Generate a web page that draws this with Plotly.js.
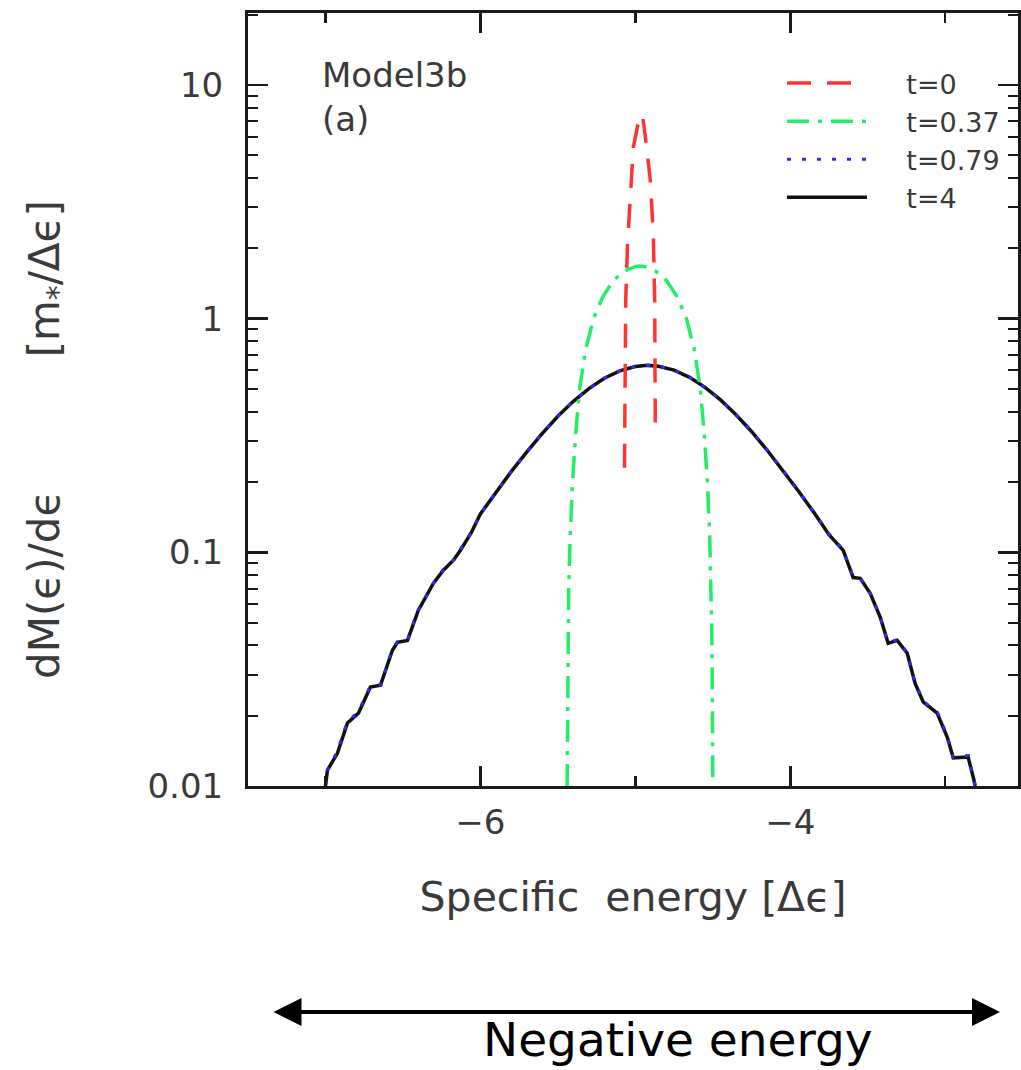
<!DOCTYPE html>
<html>
<head>
<meta charset="utf-8">
<script src="https://cdn.plot.ly/plotly-3.0.1.min.js"></script>
<style>
html,body{margin:0;padding:0;background:#fff;}
#chart{width:1021px;height:1070px;}
</style>
</head>
<body>
<div id="chart"></div>
<script>
// t=0 (red dashed)
const energyT0 = [-5.07, -5.066, -5.062, -5.05, -5.032, -5.013, -4.985, -4.955, -4.935, -4.918, -4.903, -4.884, -4.875, -4.871];
const massT0   = [0.23, 0.60, 1.20, 2.10, 3.60, 5.40, 6.70, 7.50, 6.00, 4.80, 3.90, 2.30, 1.20, 0.342];

// t=0.37 (green dash-dot)
const energyT037 = [-5.44, -5.438, -5.435, -5.43, -5.42, -5.405, -5.385, -5.36, -5.32, -5.27, -5.21, -5.14, -5.07, -5.00, -4.97,
  -4.94, -4.87, -4.80, -4.73, -4.67, -4.62, -4.58, -4.555, -4.535, -4.52, -4.51, -4.505, -4.502, -4.50];
const massT037   = [0.01, 0.02, 0.04, 0.07, 0.12, 0.20, 0.32, 0.50, 0.74, 1.00, 1.24, 1.46, 1.60, 1.67, 1.68,
  1.67, 1.60, 1.46, 1.24, 1.00, 0.74, 0.50, 0.32, 0.20, 0.12, 0.07, 0.04, 0.02, 0.01];

// t=4 (black solid)
const energyT4 = [-7.00, -6.987, -6.923, -6.858, -6.787, -6.71, -6.645, -6.568, -6.535, -6.471, -6.40, -6.303, -6.239, -6.174, -6.129, -6.06,
  -6.0, -5.9, -5.8, -5.7, -5.6, -5.5, -5.4, -5.3, -5.2, -5.1, -5.0, -4.92, -4.85, -4.75, -4.65, -4.55, -4.45, -4.35, -4.25, -4.15, -4.05, -3.95, -3.85, -3.75,
  -3.658, -3.594, -3.548, -3.484, -3.419, -3.368, -3.31, -3.245, -3.194, -3.142, -3.052, -2.987, -2.948, -2.852, -2.819, -2.806];
const massT4 = [0.0100, 0.0117, 0.0138, 0.0186, 0.0205, 0.0265, 0.0270, 0.0381, 0.0412, 0.0420, 0.0565, 0.0738, 0.0838, 0.0925, 0.102, 0.121,
  0.146, 0.180, 0.222, 0.269, 0.323, 0.382, 0.443, 0.502, 0.556, 0.598, 0.624, 0.631, 0.626, 0.602, 0.561, 0.508, 0.449, 0.388, 0.329, 0.274, 0.226, 0.184, 0.149, 0.119,
  0.102, 0.078, 0.0774, 0.0668, 0.0527, 0.0408, 0.042, 0.037, 0.0275, 0.0229, 0.0205, 0.0162, 0.0132, 0.0133, 0.0109, 0.0100];

// t=0.79 (blue dotted) - nearly identical to t=4
const energyT079 = [-7.00, -6.985, -6.925, -6.86, -6.79, -6.71, -6.64, -6.57, -6.535, -6.47, -6.40, -6.30, -6.24, -6.17, -6.13, -6.06,
  -6.0, -5.9, -5.8, -5.7, -5.6, -5.5, -5.4, -5.3, -5.2, -5.1, -5.0, -4.92, -4.85, -4.75, -4.65, -4.55, -4.45, -4.35, -4.25, -4.15, -4.05, -3.95, -3.85, -3.75,
  -3.66, -3.595, -3.55, -3.485, -3.42, -3.37, -3.31, -3.245, -3.195, -3.14, -3.05, -2.985, -2.95, -2.85, -2.82, -2.806];
const massT079 = [0.0100, 0.0118, 0.0140, 0.0188, 0.0207, 0.0268, 0.0272, 0.0385, 0.0415, 0.0423, 0.0570, 0.0742, 0.0842, 0.0930, 0.103, 0.121,
  0.146, 0.181, 0.222, 0.270, 0.324, 0.382, 0.444, 0.502, 0.557, 0.598, 0.624, 0.631, 0.626, 0.602, 0.561, 0.508, 0.449, 0.388, 0.330, 0.275, 0.226, 0.185, 0.149, 0.120,
  0.103, 0.079, 0.0778, 0.0672, 0.0530, 0.0410, 0.0423, 0.0372, 0.0277, 0.0230, 0.0207, 0.0163, 0.0133, 0.0135, 0.0110, 0.0100];

const seriesNames = ["t=0", "t=0.37", "t=0.79", "t=4"];
const xTickVals = [-6, -4];
const xTickText = ["\u22126", "\u22124"];
const xMinorVals = [-7, -5, -3];
const yTickVals = [0.01, 0.1, 1, 10];
const yTickText = ["0.01", "0.1", "1", "10"];

const FONT = "DejaVu Sans, Liberation Sans, sans-serif";
const TXT = "#3a3a3a";
const NB = "\u00a0";
const LEGPAD = NB.repeat(4);

const traces = [
  {x: energyT4, y: massT4, name: LEGPAD + seriesNames[3], mode: "lines",
   line: {color: "#111111", width: 3.5}},
  {x: energyT079, y: massT079, name: LEGPAD + seriesNames[2], mode: "lines",
   line: {color: "#2a2aff", width: 3, dash: "4px,11px"}},
  {x: energyT037, y: massT037, name: LEGPAD + seriesNames[1], mode: "lines",
   line: {color: "#22ee66", width: 3.5, dash: "22px,9px,4px,9px"}},
  {x: energyT0, y: massT0, name: LEGPAD + seriesNames[0], mode: "lines",
   line: {color: "#ff3333", width: 3.5, dash: "24px,16px"}}
];

const layout = {
  width: 1021, height: 1070,
  margin: {l: 248, r: 3, t: 13, b: 284},
  paper_bgcolor: "#ffffff", plot_bgcolor: "#ffffff",
  font: {family: FONT, color: TXT, size: 26},
  showlegend: true,
  legend: {
    x: 0.6935, y: 0.9405, xanchor: "left", yanchor: "top",
    traceorder: "reversed", bgcolor: "rgba(0,0,0,0)", borderwidth: 0,
    font: {family: FONT, size: 27, color: TXT},
    itemwidth: 80, tracegroupgap: 0
  },
  xaxis: {
    range: [-7.5, -2.53], showgrid: false, zeroline: false,
    showline: true, linecolor: "#1a1a1a", linewidth: 3, mirror: "ticks",
    ticks: "inside", ticklen: 20, tickwidth: 2.5, tickcolor: "#1a1a1a",
    tickmode: "array", tickvals: xTickVals, ticktext: xTickText,
    tickfont: {family: FONT, size: 34, color: TXT},
    ticklabelstandoff: 4,
    minor: {tickmode: "array", tickvals: xMinorVals, ticks: "inside", ticklen: 10, tickwidth: 2.5, tickcolor: "#1a1a1a"},
    title: {text: "Specific" + NB + NB + "energy" + NB + "[\u0394\u03f5]", font: {family: FONT, size: 41, color: TXT}, standoff: 42}
  },
  yaxis: {
    type: "log", range: [-2, 1.308], showgrid: false, zeroline: false,
    showline: true, linecolor: "#1a1a1a", linewidth: 3, mirror: "ticks",
    ticks: "inside", ticklen: 20, tickwidth: 2.5, tickcolor: "#1a1a1a",
    tickmode: "array", tickvals: yTickVals, ticktext: yTickText,
    tickfont: {family: FONT, size: 34, color: TXT},
    ticklabelstandoff: 15,
    minor: {dtick: "D1", ticks: "inside", ticklen: 10, tickwidth: 2, tickcolor: "#1a1a1a"},
    title: {text: "dM(\u03f5)/d\u03f5" + NB.repeat(10) + "[m<sub>*</sub>/\u0394\u03f5]" + NB.repeat(6) + "\u200b",
            font: {family: FONT, size: 42, color: TXT}, standoff: 75}
  },
  annotations: [
    {xref: "paper", yref: "paper", x: 0.093, y: 0.948, xanchor: "left", yanchor: "top", align: "left",
     showarrow: false, text: "Model3b<br>(a)", font: {family: FONT, size: 34, color: TXT}},
    {xref: "paper", yref: "paper", x: 0.9766, y: -0.2924, ax: -728, ay: 0, axref: "pixel", ayref: "pixel",
     showarrow: true, arrowside: "end+start", arrowhead: 2, arrowsize: 1.4, arrowwidth: 4, arrowcolor: "#000000", text: ""},
    {xref: "paper", yref: "paper", x: 0.558, y: -0.3275, xanchor: "center", yanchor: "middle",
     showarrow: false, text: "Negative energy", font: {family: FONT, size: 47, color: "#000000"}}
  ]
};

Plotly.newPlot("chart", traces, layout, {displayModeBar: false, staticPlot: true});
</script>
</body>
</html>
